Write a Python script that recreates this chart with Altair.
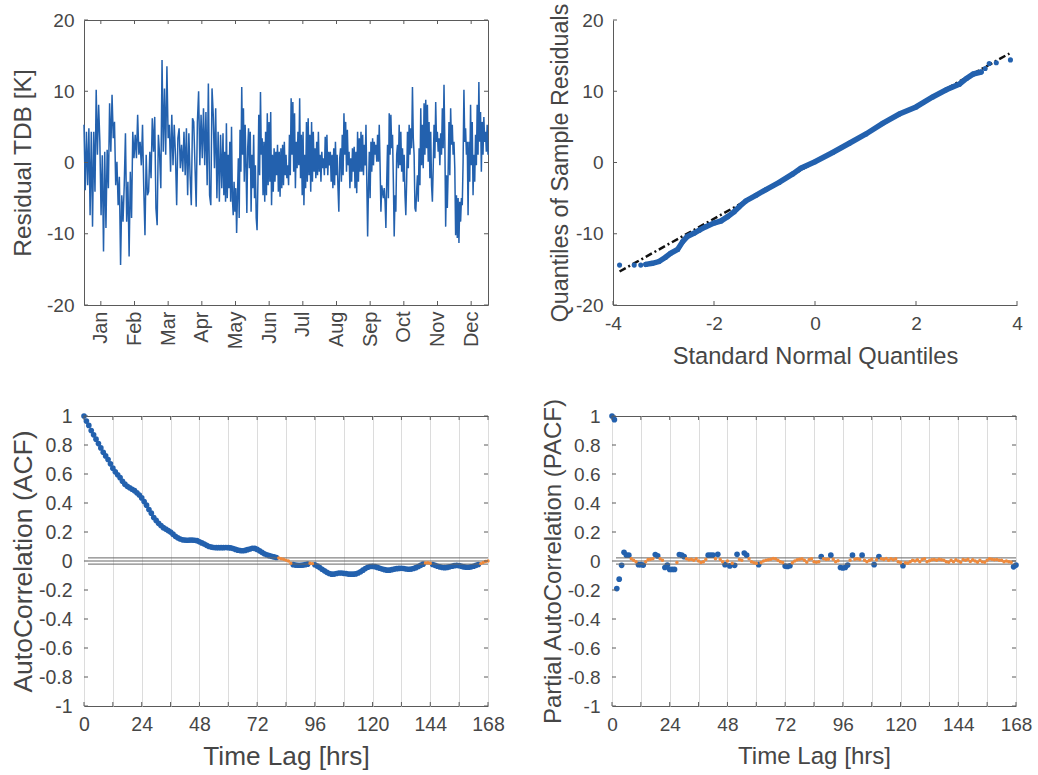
import altair as alt
import pandas as pd

# ---------------- data ----------------
months = ["Jan", "Feb", "Mar", "Apr", "May", "Jun", "Jul", "Aug", "Sep", "Oct", "Nov", "Dec"]
hours_per_month = 730
# residual series, read in three stretches; boundaries in hours of the year
seg_hours = [0, 3014, 6006, 8760]
resid_seg1 = [5.3, -3.9, 4.3, -3.2, 4.8, -7.4, 4.3, -9.0, 4.3, -4.1, 10.2, 1.1, 8.1, 2.9, -7.4, 1.0,
              -12.5, 1.5, -9.2, 1.8, -3.6, 8.3, 1.5, 9.5, 3.4, 5.7, -3.2, 0.1, -6.0, -2.0, -14.4, -4.6,
              -8.3, -3.2, 4.1, -8.3, -2.7, -13.2, -1.3, -7.8, 4.3, 0.6, 3.9, 0.6, 6.7, 1.1, 2.9, -0.4,
              5.3, -3.6, -10.2, 1.1, -4.6, -4.1, 1.5, -2.2, 6.2, 1.5, 6.4, -6.4, -8.8, 3.9, 1.1, -3.6,
              14.4, 1.5, 10.4, 1.1, 13.5, 3.4, 5.3, -1.3, 6.7, -0.4, 5.3, 1.1, -6.0, 3.4, 4.8, -0.8,
              2.5, -1.3, 4.3, -1.8, 4.8, -4.6, 4.1, -1.8, -6.0, 6.2, 5.7, -0.4, -6.2, 5.7, 10.0, -0.4,
              6.7, 0.6, 7.6, -0.4, 7.1, -3.2, 11.1, -4.6, -6.0, 10.4, 6.7, -0.8, 7.6, -5.0, 4.3, -5.5,
              3.9, -3.6]
resid_seg2 = [4.1, -4.6, 1.5, -5.5, 5.5, -5.0, 1.1, -3.6, 2.9, -5.5, 5.0, -5.0, -7.4, -2.7, -6.9, -3.6,
              -9.9, -4.6, 0.6, -7.8, 4.6, -1.3, 10.6, 1.1, 7.6, -2.7, 5.3, -0.4, -7.1, 2.0, 4.8, -0.8,
              4.3, -6.9, 1.1, -3.6, 3.9, -5.0, -0.4, -7.8, -9.5, -2.7, 6.7, -1.8, 9.9, 1.1, 3.4, -4.6,
              2.9, -5.5, 4.3, -4.6, 6.9, -3.2, 5.7, -2.7, 7.1, -6.0, 1.1, -4.1, 2.0, -2.7, 1.5, -1.8,
              2.5, -4.1, 1.5, -4.8, 2.0, -3.6, 2.5, -3.2, 2.9, -1.8, 1.1, -2.2, -0.4, -3.2, 3.9, -1.8,
              9.0, 1.1, 8.5, -1.3, 6.9, -3.6, 2.9, -0.8, 4.3, -0.4, 9.0, -2.2, 3.9, -4.6, 4.3, -6.0,
              1.1, -3.6, 5.7, -2.7, 6.2, -1.8, 3.9, -4.1, 5.7, -2.7, 4.3, -1.3, 2.0, -2.2, 2.9, -1.8,
              4.3, -1.3, 1.1, -2.7, 1.5, -0.8, 0.6, -1.8, 3.6, -0.8, 3.9, -1.8, 1.5, -0.4, 1.5, -2.7,
              1.1, -3.6, 2.0, -3.2, 2.9, -1.8, 1.1, -3.6, -6.9, 0.6, 2.0, -2.7, 3.9, -1.8, 6.9, 1.1,
              5.7, -1.3, 4.6, -0.4, 1.5, -3.6, 0.6, -2.7, 2.0, -1.3, 2.2, -3.6, 1.5, -4.3, 4.3, -2.7,
              3.4, -1.3]
resid_seg3 = [4.3, -1.3, 3.9, -1.8, 2.5, -0.4, 5.3, -2.7, -10.4, -3.6, 1.5, -5.0, 2.9, -1.3, 3.4, -0.4,
              2.9, 1.1, 2.5, 0.1, 3.9, 0.1, 5.3, -0.4, -6.9, -3.2, -4.1, -5.0, -3.6, -5.5, -9.2, -2.7,
              2.5, -5.0, 6.9, 1.1, 6.7, 2.0, 3.9, -2.7, -10.4, -4.6, -6.9, 1.1, 2.5, -0.8, 5.3, -0.4,
              4.3, -1.3, 2.0, -2.7, 1.1, -4.6, -7.4, -2.7, 4.3, -0.8, 5.3, 1.1, 4.8, 2.0, 10.6, 3.4,
              1.1, -6.4, -6.9, -4.1, -1.8, -5.5, 2.0, -3.2, 7.6, -0.4, 5.3, -0.8, 8.3, 1.1, 8.8, 2.0,
              8.1, 0.1, 5.7, -2.2, 4.3, -3.2, -5.5, -0.8, 5.3, 0.6, 8.5, 2.9, 4.3, 1.5, 3.4, -0.4,
              4.1, 1.1, 7.6, 2.0, 10.9, 2.9, -9.0, -1.8, -6.4, -1.3, 5.7, -1.8, 7.6, 2.5, 5.3, 1.1,
              2.9, -0.8, -10.2, -4.6, -10.6, -5.0, -11.3, -5.5, -8.3, -5.0, -6.0, 0.1, 10.2, 2.9, 4.8, 1.1,
              2.9, -7.4, 2.9, -2.7, 8.1, -0.4, 5.7, -4.6, 1.1, -2.7, 3.9, -0.4, 8.1, 1.1, 11.3, 2.9,
              7.1, -1.3, 5.7, 1.1, 6.4, 2.9, 4.3, 1.5, 5.3, 1.1]

# Q-Q plot (standard normal quantile, sample quantile)
qq_theo = [-3.35, -3.22, -3.09, -2.96, -2.86, -2.72, -2.62, -2.53, -2.39, -2.29, -2.16, -2.00, -1.86,
           -1.73, -1.60, -1.50, -1.37, -1.17, -0.97, -0.71, -0.44, -0.28, 0.0, 0.35, 0.68, 1.01, 1.34,
           1.67, 2.00, 2.33, 2.60, 2.86, 3.00, 3.13, 3.29]
qq_sample = [-14.3, -14.15, -13.9, -13.3, -12.75, -12.2, -11.1, -10.4, -9.9, -9.5, -9.0, -8.5, -8.2,
             -7.6, -6.9, -6.2, -5.4, -4.6, -3.8, -2.8, -1.6, -0.8, 0.1, 1.4, 2.7, 4.0, 5.5,
             6.8, 7.8, 9.2, 10.2, 11.0, 11.8, 12.4, 12.7]
qq_tail_theo = [-3.87, -3.58, -3.45, 3.37, 3.45, 3.59, 3.87]
qq_tail_sample = [-14.4, -14.4, -14.4, 13.2, 13.9, 14.0, 14.4]
qq_ref_theo = [-3.87, 3.85]
qq_ref_sample = [-15.3, 15.3]

# autocorrelation, lags 0..168
acf_values = [1.00, 0.965, 0.935, 0.90, 0.87, 0.84, 0.81, 0.78, 0.75, 0.725, 0.70, 0.67, 0.64, 0.615,
              0.595, 0.575, 0.55, 0.53, 0.515, 0.505, 0.495, 0.485, 0.47, 0.455, 0.435, 0.41, 0.385,
              0.355, 0.33, 0.30, 0.28, 0.26, 0.245, 0.23, 0.22, 0.21, 0.20, 0.185, 0.17, 0.16, 0.152,
              0.146, 0.144, 0.143, 0.144, 0.144, 0.143, 0.14, 0.133, 0.125, 0.117, 0.108, 0.10, 0.096,
              0.093, 0.092, 0.092, 0.092, 0.092, 0.093, 0.092, 0.090, 0.086, 0.080, 0.075, 0.072,
              0.071, 0.073, 0.078, 0.083, 0.088, 0.087, 0.080, 0.070, 0.060, 0.050, 0.043, 0.037,
              0.032, 0.028, 0.024, 0.020, 0.016, 0.012, 0.006, 0.000, -0.016, -0.025, -0.028, -0.029,
              -0.029, -0.028, -0.025, -0.022, -0.015, -0.018, -0.026, -0.035, -0.045, -0.057, -0.068,
              -0.078, -0.086, -0.091, -0.090, -0.086, -0.083, -0.083, -0.085, -0.087, -0.090, -0.091,
              -0.091, -0.089, -0.083, -0.074, -0.063, -0.052, -0.043, -0.038, -0.037, -0.039, -0.044,
              -0.050, -0.055, -0.060, -0.063, -0.063, -0.060, -0.056, -0.053, -0.051, -0.050, -0.052,
              -0.055, -0.057, -0.056, -0.052, -0.046, -0.038, -0.030, -0.022, -0.013, -0.012, -0.016,
              -0.024, -0.030, -0.036, -0.041, -0.045, -0.046, -0.044, -0.040, -0.036, -0.032, -0.030,
              -0.032, -0.037, -0.041, -0.043, -0.043, -0.040, -0.036, -0.030, -0.024, -0.018, -0.010,
              -0.004, 0.000]
# partial autocorrelation, lags 0..168
pacf_values = [1.0, 0.975, -0.19, -0.125, -0.03, 0.06, 0.04, 0.04, 0.015, 0.005, -0.005, -0.025, -0.025,
               -0.028, -0.005, 0.01, 0.012, 0.015, 0.045, 0.035, 0.015, 0.005, -0.045, -0.028, -0.058,
               -0.058, -0.058, -0.01, 0.045, 0.04, 0.03, 0.015, 0.008, 0.012, 0.005, 0.015, 0.0, -0.01,
               -0.005, 0.01, 0.04, 0.04, 0.04, 0.015, 0.046, 0.01, -0.005, -0.025, 0.0, -0.034, -0.015,
               -0.03, 0.046, 0.01, 0.005, 0.055, 0.04, 0.015, -0.005, -0.012, -0.015, -0.025, -0.01,
               0.0, 0.005, 0.008, 0.012, 0.018, 0.015, 0.005, -0.005, -0.01, -0.035, -0.038, -0.033,
               -0.012, 0.0, 0.008, 0.012, 0.015, 0.005, -0.008, 0.01, 0.015, -0.005, -0.008, -0.005,
               0.03, 0.015, 0.01, 0.012, 0.04, 0.012, -0.005, 0.002, -0.045, -0.048, -0.045, -0.028,
               0.005, 0.04, 0.012, 0.015, 0.01, 0.04, 0.005, -0.005, 0.003, 0.012, -0.025, 0.008, 0.03,
               0.015, 0.01, 0.018, 0.005, 0.015, 0.008, 0.016, -0.005, -0.01, -0.032, -0.012, -0.015,
               -0.005, 0.005, 0.0, 0.008, -0.005, 0.01, 0.016, -0.005, 0.002, 0.008, 0.01, 0.005,
               0.012, 0.008, 0.005, -0.005, -0.008, 0.005, -0.005, 0.008, 0.0, -0.008, 0.01, 0.005,
               0.012, -0.003, 0.008, 0.0, -0.008, 0.005, -0.006, -0.008, 0.005, 0.015, 0.012, 0.008,
               0.01, 0.005, 0.005, -0.005, 0.0, -0.005, -0.008, -0.04, -0.028]
conf_bound = 0.0214
bound_lines = [conf_bound, 0.0, -conf_bound]

ts_yticks = [-20, -10, 0, 10, 20]
qq_xticks = [-4, -2, 0, 2, 4]
lag_ticks = list(range(0, 169, 12))
corr_yticks = [-1, -0.8, -0.6, -0.4, -0.2, 0, 0.2, 0.4, 0.6, 0.8, 1]

# ---------------- style ----------------
BLUE = "#2361ae"
ORANGE = "#ef8a3c"
TXT = "#464646"
AX = "#5a5a5a"
FONT = "Liberation Sans"
W = 404
HT = 285
HB = 290
TL = 4  # tick length

# ---------------- frames ----------------
rows = []
segs = [resid_seg1, resid_seg2, resid_seg3]
for k, seg in enumerate(segs):
    h0, h1 = seg_hours[k], seg_hours[k + 1]
    n = len(seg) - 1 if k == len(segs) - 1 else len(seg)
    for i, v in enumerate(seg):
        rows.append({"hour": h0 + (h1 - h0) * i / n, "resid": v})
ts_df = pd.DataFrame(rows)

qq_df = pd.DataFrame({"t": qq_theo, "s": qq_sample})
qq_tail_df = pd.DataFrame({"t": qq_tail_theo, "s": qq_tail_sample})
qq_all_df = pd.concat([qq_df, qq_tail_df])
qq_ref_df = pd.DataFrame({"t": qq_ref_theo, "s": qq_ref_sample})

acf_df = pd.DataFrame({"lag": range(len(acf_values)), "r": acf_values})
acf_df["sig"] = acf_df["r"].abs() > conf_bound
pacf_df = pd.DataFrame({"lag": range(len(pacf_values)), "r": pacf_values})
pacf_df["sig"] = pacf_df["r"].abs() > conf_bound
bounds_df = pd.DataFrame({"b": bound_lines})

month_mid = [(m + 0.5) * hours_per_month for m in range(len(months))]


def inward_ticks(xvals, yvals, xenc, yenc, h, sides):
    """xenc / yenc: functions returning the panel's shared X / Y encoding for a field."""
    out = []
    dx = pd.DataFrame({"v": xvals})
    dy = pd.DataFrame({"v": yvals})
    if "bottom" in sides:
        out.append(alt.Chart(dx).mark_rule(color=AX, strokeWidth=1).encode(
            x=xenc("v:Q"), y=alt.value(h), y2=alt.value(h - TL)))
    if "top" in sides:
        out.append(alt.Chart(dx).mark_rule(color=AX, strokeWidth=1).encode(
            x=xenc("v:Q"), y=alt.value(0), y2=alt.value(TL)))
    if "left" in sides:
        out.append(alt.Chart(dy).mark_rule(color=AX, strokeWidth=1).encode(
            y=yenc("v:Q"), x=alt.value(0), x2=alt.value(TL)))
    if "right" in sides:
        out.append(alt.Chart(dy).mark_rule(color=AX, strokeWidth=1).encode(
            y=yenc("v:Q"), x=alt.value(W - TL), x2=alt.value(W)))
    return out


num_label = "'' + datum.value"

# ---- panel 1: residual time series ----
ts_x = alt.Scale(domain=[0, 8760], nice=False, zero=False)
ts_y = alt.Scale(domain=[-20, 20], nice=False, zero=False)
ts_xaxis = alt.Axis(values=month_mid, title=None, labelAngle=270, labelAlign="right", labelBaseline="middle",
                    labelExpr=f"{months!r}[floor(datum.value / {hours_per_month})]", labelFontSize=20,
                    labelPadding=6, labelFlush=False)
ts_yaxis = alt.Axis(values=ts_yticks, title="Residual TDB [K]", labelExpr=num_label, labelFontSize=19,
                    labelPadding=10, titlePadding=10.5, titleFontSize=24.5, labelFlush=False,
                    minExtent=38, maxExtent=38)


def ts_xenc(f):
    return alt.X(f, scale=ts_x, axis=ts_xaxis)


def ts_yenc(f):
    return alt.Y(f, scale=ts_y, axis=ts_yaxis)


ts_line = alt.Chart(ts_df).mark_line(color=BLUE, strokeWidth=1.5).encode(
    x=ts_xenc("hour:Q"), y=ts_yenc("resid:Q"))
ts_chart = alt.layer(
    ts_line, *inward_ticks(month_mid, ts_yticks, ts_xenc, ts_yenc, HT, ["bottom", "top", "left", "right"])
).properties(width=W, height=HT)

# ---- panel 2: Q-Q plot ----
qq_xs = alt.Scale(domain=[-4, 4], nice=False, zero=False)
qq_ys = alt.Scale(domain=[-20, 20], nice=False, zero=False)
qq_xaxis = alt.Axis(values=qq_xticks, title="Standard Normal Quantiles", labelExpr=num_label,
                    labelFontSize=19, labelPadding=9, titlePadding=11, titleFontSize=23.7,
                    domain=True, domainColor=AX, labelFlush=False)
qq_yaxis = alt.Axis(values=ts_yticks, title="Quantiles of Sample Residuals", labelExpr=num_label,
                    labelFontSize=19, labelPadding=10, titlePadding=3, titleFontSize=23.3,
                    domain=True, domainColor=AX, labelFlush=False, minExtent=38, maxExtent=38)


def qq_xenc(f):
    return alt.X(f, scale=qq_xs, axis=qq_xaxis)


def qq_yenc(f):
    return alt.Y(f, scale=qq_ys, axis=qq_yaxis)


qq_ref = alt.Chart(qq_ref_df).mark_line(color="#111111", strokeWidth=2.5, strokeDash=[7, 3, 2, 3]).encode(
    x=qq_xenc("t:Q"), y=qq_yenc("s:Q"))
qq_band = alt.Chart(qq_df).mark_line(color=BLUE, strokeWidth=5.5, strokeCap="round").encode(
    x=qq_xenc("t:Q"), y=qq_yenc("s:Q"))
qq_pts = alt.Chart(qq_all_df).mark_circle(color=BLUE, size=26, opacity=1).encode(
    x=qq_xenc("t:Q"), y=qq_yenc("s:Q"))
qq_chart = alt.layer(
    qq_ref, qq_band, qq_pts, *inward_ticks(qq_xticks, ts_yticks, qq_xenc, qq_yenc, HT, ["bottom", "left"])
).properties(width=W, height=HT, view=alt.ViewBackground(stroke="transparent"))


# ---- panels 3/4: ACF and PACF ----
def corr_panel(df, ytitle, label_size, title_size, ytitle_size):
    xs = alt.Scale(domain=[0, 168], nice=False, zero=False)
    ys = alt.Scale(domain=[-1, 1], nice=False, zero=False)
    xaxis = alt.Axis(values=lag_ticks, title="Time Lag [hrs]", grid=True, gridColor="#dcdcdc",
                     labelExpr="datum.value % 24 == 0 ? '' + datum.value : ''", labelFontSize=label_size,
                     labelPadding=9, titlePadding=10, titleFontSize=title_size, labelFlush=False)
    yaxis = alt.Axis(values=corr_yticks, title=ytitle, labelExpr=num_label, labelFontSize=label_size,
                     labelPadding=12, titlePadding=2, titleFontSize=ytitle_size, labelFlush=False,
                     minExtent=45, maxExtent=45)

    def xenc(f):
        return alt.X(f, scale=xs, axis=xaxis)

    def yenc(f):
        return alt.Y(f, scale=ys, axis=yaxis)

    blines = alt.Chart(bounds_df).mark_rule(color="#666666", strokeWidth=1).encode(
        y=yenc("b:Q"), x=alt.value(4), x2=alt.value(W))
    sig = alt.Chart(df).transform_filter("datum.sig").mark_circle(color=BLUE, size=32, opacity=1).encode(
        x=xenc("lag:Q"), y=yenc("r:Q"))
    insig = alt.Chart(df).transform_filter("!datum.sig").mark_circle(color=ORANGE, size=12, opacity=1).encode(
        x=xenc("lag:Q"), y=yenc("r:Q"))
    return alt.layer(
        sig, blines, insig,
        *inward_ticks(lag_ticks, corr_yticks, xenc, yenc, HB, ["bottom", "top", "left", "right"])
    ).properties(width=W, height=HB)


acf_chart = corr_panel(acf_df, "AutoCorrelation (ACF)", 19.5, 26.2, 26.5)
pacf_chart = corr_panel(pacf_df, "Partial AutoCorrelation (PACF)", 19, 24.1, 24)

top = alt.hconcat(ts_chart, qq_chart, spacing=55)
bottom = alt.hconcat(acf_chart, pacf_chart, spacing=35)
chart = alt.vconcat(top, bottom, spacing=28).properties(
    padding={"left": 9, "top": 2, "right": 5, "bottom": 2}
).configure(
    background="white"
).configure_axis(
    labelFont=FONT, titleFont=FONT, labelColor=TXT, titleColor=TXT, titleFontSize=23,
    titleFontWeight="normal", domain=False, ticks=False, grid=False
).configure_view(
    stroke=AX, strokeWidth=1
)

chart.save("out.html", embed_options={"renderer": "svg", "actions": False})
